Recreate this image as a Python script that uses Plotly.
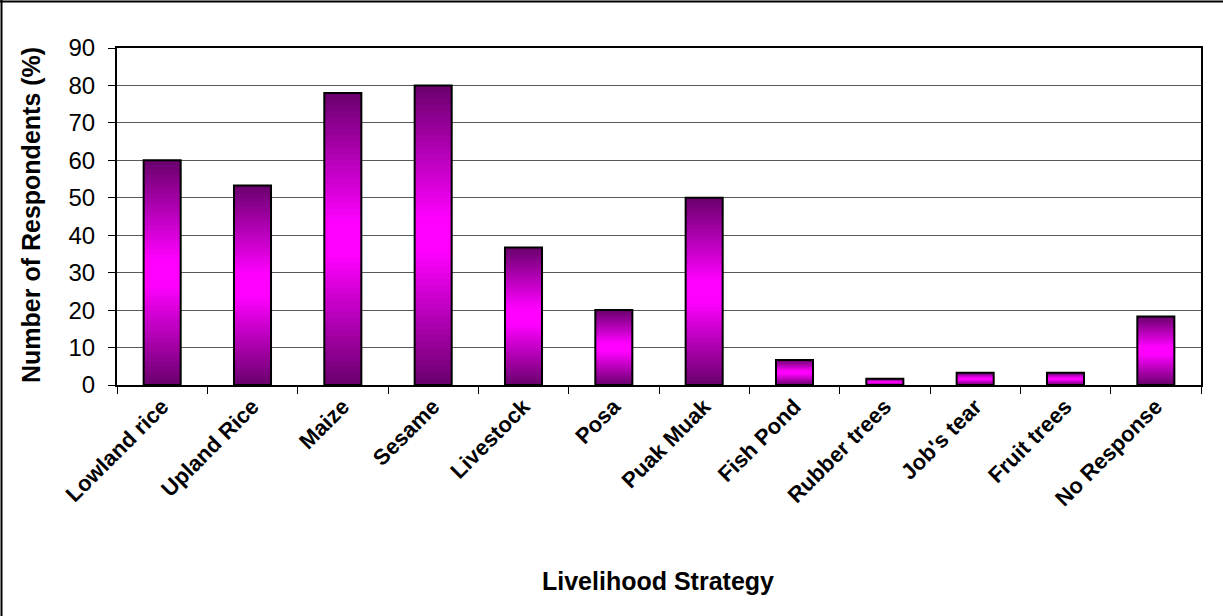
import plotly.graph_objects as go

categories = ["Lowland rice", "Upland Rice", "Maize", "Sesame", "Livestock", "Posa",
              "Puak Muak", "Fish Pond", "Rubber trees", "Job's tear", "Fruit trees", "No Response"]
values = [60, 53.3, 78, 80, 36.7, 20, 50, 6.7, 1.7, 3.3, 3.3, 18.3]
y_ticks = [0, 10, 20, 30, 40, 50, 60, 70, 80, 90]

W, H = 1223, 616
ML, MR, MT, MB = 117, 22, 48, 231
PW, PH = W - ML - MR, H - MT - MB

FONT = "Liberation Sans, Arial, sans-serif"
dark = (104, 0, 108)
bright = (255, 0, 255)
N = 48

def grad_color(t):
    s = 1 - abs(2 * t - 1)
    s = min(1.0, s * 1.12)
    r = [round(d + (b - d) * s) for d, b in zip(dark, bright)]
    return f"rgb({r[0]},{r[1]},{r[2]})"

fig = go.Figure()
for k in range(N):
    frac = k / N
    t = 1 - (k + 0.5) / N  # relative position from top
    fig.add_trace(go.Bar(
        x=categories,
        y=[v * (1 - frac) for v in values],
        base=[v * frac for v in values],
        marker=dict(color=grad_color(t), line=dict(width=0)),
        hoverinfo="skip", showlegend=False,
    ))
fig.add_trace(go.Bar(
    x=categories, y=values, base=[0] * len(values),
    marker=dict(color="rgba(0,0,0,0)", line=dict(color="black", width=2)),
    showlegend=False,
))

def px_x(p):
    return (p - ML) / PW

def px_y(p):
    return (H - MB - p) / PH

fig.update_layout(
    width=W, height=H,
    margin=dict(l=ML, r=MR, t=MT, b=MB, autoexpand=False),
    paper_bgcolor="white", plot_bgcolor="white",
    barmode="overlay", bargap=0.59,
    font=dict(family=FONT, color="black"),
    xaxis=dict(
        tickson="boundaries", ticks="outside", ticklen=7, tickcolor="black", tickwidth=1,
        tickangle=-45, tickfont=dict(family=FONT, size=22, color="black", weight="bold"),
        ticklabelstandoff=-2,
        showline=True, linecolor="black", linewidth=2, mirror=True,
        showgrid=False, zeroline=False,
    ),
    yaxis=dict(
        range=[0, 90], tickvals=y_ticks, ticks="outside", ticklen=7, tickcolor="black",
        tickfont=dict(family=FONT, size=24, color="black"), ticklabelstandoff=8,
        showline=True, linecolor="black", linewidth=2, mirror=True,
        showgrid=True, gridcolor="#5a5a5a", gridwidth=1, zeroline=False,
    ),
    annotations=[
        dict(text="<b>Livelihood Strategy</b>", xref="paper", yref="paper",
             x=px_x(658), y=px_y(581), showarrow=False, xanchor="center", yanchor="middle",
             font=dict(family=FONT, size=25, color="black")),
        dict(text="<b>Number of Respondents (%)</b>", xref="paper", yref="paper",
             x=px_x(31), y=px_y(215), showarrow=False, xanchor="center", yanchor="middle",
             textangle=-90, font=dict(family=FONT, size=25, color="black")),
    ],
    shapes=[
        dict(type="line", xref="paper", yref="paper", x0=px_x(1.5), x1=px_x(1.5),
             y0=px_y(0), y1=px_y(H), line=dict(color="black", width=2)),
        dict(type="line", xref="paper", yref="paper", x0=px_x(0), x1=px_x(W),
             y0=px_y(1.5), y1=px_y(1.5), line=dict(color="black", width=2)),
    ],
)

fig.write_html("out.html", config={"displayModeBar": False},
               post_script="document.body.style.margin='0';document.body.style.overflow='hidden';")
